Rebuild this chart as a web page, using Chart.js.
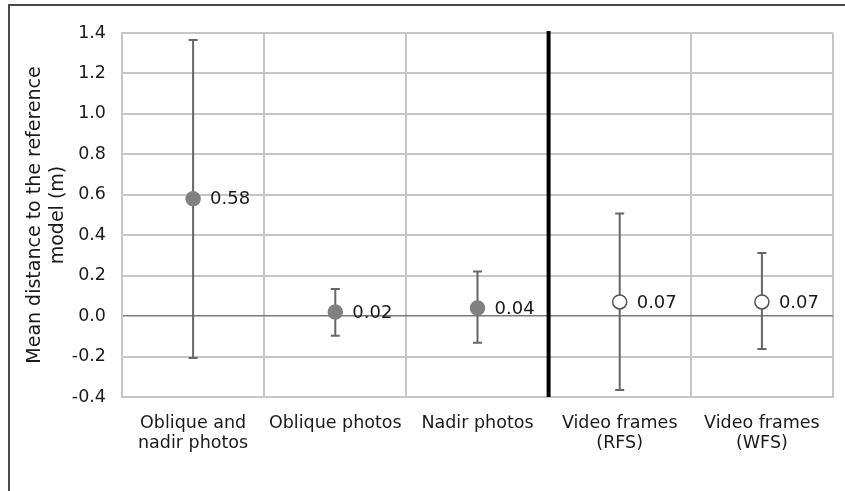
<!DOCTYPE html>
<html>
<head>
<meta charset="utf-8">
<script src="https://cdn.jsdelivr.net/npm/chart.js@4/dist/chart.umd.min.js"></script>
<style>
  html, body { margin: 0; padding: 0; background: #ffffff; overflow: hidden; }
  #frame {
    position: absolute; left: 8px; top: 4px; width: 900px; height: 600px;
    border-left: 2px solid #4a4a4a; border-top: 2px solid #4a4a4a;
  }
  #wrap { position: absolute; left: 0; top: 0; width: 845px; height: 491px; }
</style>
</head>
<body>
<div id="frame"></div>
<div id="wrap"><canvas id="chart" width="845" height="491"></canvas></div>
<script>
// Mean distance of each point cloud to the reference model, with spread (m)
const categories = [
  ['Oblique and', 'nadir photos'],
  'Oblique photos',
  'Nadir photos',
  ['Video frames', '(RFS)'],
  ['Video frames', '(WFS)']
];
const meanValues  = [0.58, 0.02, 0.04, 0.07, 0.07];
const upperValues = [1.366, 0.134, 0.221, 0.508, 0.312];
const lowerValues = [-0.207, -0.097, -0.132, -0.366, -0.163];
const valueLabels = ['0.58', '0.02', '0.04', '0.07', '0.07'];
// photo-based sets are solid markers, video-based sets are hollow
const hollowMarker = [false, false, false, true, true];

const FONT = "'DejaVu Sans', Verdana, sans-serif";
const TEXT = '#1a1a1a';

// whiskers drawn beneath the markers
const errorBars = {
  id: 'errorBars',
  beforeDatasetsDraw(chart) {
    const { ctx, scales: { x, y } } = chart;
    ctx.save();
    ctx.strokeStyle = '#666666';
    ctx.lineWidth = 2;
    meanValues.forEach((m, i) => {
      const px = x.getPixelForValue(i);
      const yt = y.getPixelForValue(upperValues[i]);
      const yb = y.getPixelForValue(lowerValues[i]);
      ctx.beginPath();
      ctx.moveTo(px, yt); ctx.lineTo(px, yb);
      ctx.moveTo(px - 4.5, yt); ctx.lineTo(px + 4.5, yt);
      ctx.moveTo(px - 4.5, yb); ctx.lineTo(px + 4.5, yb);
      ctx.stroke();
    });
    ctx.restore();
  },
  afterDatasetsDraw(chart) {
    const { ctx, scales: { x, y }, chartArea } = chart;
    ctx.save();
    // separator between photo and video groups
    const sx = (x.getPixelForValue(2) + x.getPixelForValue(3)) / 2;
    ctx.strokeStyle = '#000000';
    ctx.lineWidth = 4;
    ctx.beginPath();
    ctx.moveTo(sx, chartArea.top - 2);
    ctx.lineTo(sx, chartArea.bottom);
    ctx.stroke();
    // value labels beside markers
    ctx.fillStyle = TEXT;
    ctx.font = '18px ' + FONT;
    ctx.textAlign = 'left';
    ctx.textBaseline = 'middle';
    meanValues.forEach((m, i) => {
      ctx.fillText(valueLabels[i], x.getPixelForValue(i) + 17, y.getPixelForValue(m) + 1);
    });
    ctx.restore();
  }
};

new Chart(document.getElementById('chart'), {
  type: 'line',
  data: {
    labels: categories,
    datasets: [{
      data: meanValues,
      showLine: false,
      pointRadius: 7,
      pointHoverRadius: 7,
      pointBorderWidth: 1.5,
      pointBackgroundColor: hollowMarker.map(h => h ? '#ffffff' : '#808080'),
      pointBorderColor: hollowMarker.map(h => h ? '#555555' : '#808080')
    }]
  },
  options: {
    responsive: false,
    animation: false,
    events: [],
    layout: { padding: { top: 33, right: 12, left: 0, bottom: 0 } },
    plugins: { legend: { display: false }, tooltip: { enabled: false } },
    scales: {
      x: {
        type: 'category',
        offset: true,
        grid: { offset: true, color: '#c6c6c6', lineWidth: 2, drawTicks: false },
        border: { color: '#c6c6c6', width: 2 },
        ticks: { color: TEXT, font: { family: FONT, size: 17.5, lineHeight: 1.15 }, padding: 16, maxRotation: 0, autoSkip: false },
        afterFit(s) { s.height = 94; }
      },
      y: {
        min: -0.4,
        max: 1.4,
        ticks: {
          stepSize: 0.2,
          color: TEXT,
          font: { family: FONT, size: 17.5 },
          padding: 16,
          callback: v => (Math.abs(v) < 1e-9 ? 0 : v).toFixed(1)
        },
        grid: {
          drawTicks: false,
          color: c => Math.abs(c.tick.value) < 1e-9 ? '#7a7a7a' : '#c6c6c6',
          lineWidth: c => Math.abs(c.tick.value) < 1e-9 ? 1.5 : 2
        },
        border: { color: '#c6c6c6', width: 2 },
        title: {
          display: true,
          text: ['Mean distance to the reference', 'model (m)'],
          color: TEXT,
          font: { family: FONT, size: 19, lineHeight: 1.21 },
          padding: { top: 23.5, bottom: 0 }
        },
        afterFit(s) { s.width = 122; }
      }
    }
  },
  plugins: [errorBars]
});
</script>
</body>
</html>
